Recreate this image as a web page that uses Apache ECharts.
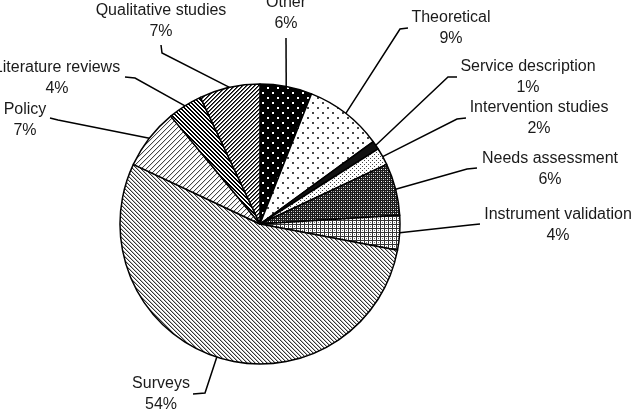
<!DOCTYPE html>
<html><head><meta charset="utf-8">
<script src="https://cdn.jsdelivr.net/npm/echarts@6/dist/echarts.min.js"></script>
<style>html,body{margin:0;padding:0;background:#fff}#c{width:635px;height:418px}</style>
</head><body><div id="c"></div>
<script>
const categories = ['Other','Theoretical','Service description','Intervention studies','Needs assessment','Instrument validation','Surveys','Policy','Literature reviews','Qualitative studies'];
const percents = [6, 9, 1, 2, 6, 4, 54, 7, 4, 7];

// label placement (style): [labelX, labelY, lineEndX, lineEndY, elbowX, elbowY]
const labelPlacement = [
  [286, 13, 286, 38, 286, 38],
  [451, 28, 408, 28, 400, 29],
  [528, 77, 457, 77, 448, 77],
  [539, 118, 466, 118, 457, 119],
  [550, 169, 477, 168, 467, 169],
  [558, 225, 480, 224, 470, 225],
  [161, 394, 193, 394, 205, 393],
  [25, 120, 50, 118, 58, 120],
  [57, 78, 125, 77, 135, 78],
  [161, 21, 161, 45, 162, 53]
];

function tile(w, h, bg, px) {
  const c = document.createElement('canvas');
  c.width = w; c.height = h;
  const g = c.getContext('2d');
  g.fillStyle = bg; g.fillRect(0, 0, w, h);
  px.forEach(function (p) { g.fillStyle = p[2]; g.fillRect(p[0], p[1], p[3] || 1, p[4] || 1); });
  return { image: c, repeat: 'repeat' };
}
function diag(n, dir, cols) {
  const px = [];
  for (let i = 0; i < n; i++) {
    cols.forEach(function (col, k) {
      const x = dir === 'down' ? (i + k) % n : ((n - 1 - i) + k) % n;
      px.push([x, i, col]);
    });
  }
  return px;
}
const patterns = [
  tile(10, 10, '#000', [[2, 2, '#fff', 2, 2], [7, 7, '#fff', 2, 2]]),
  tile(10, 10, '#fff', [[2, 2, '#444', 2, 2], [7, 7, '#444', 2, 2]]),
  tile(2, 2, '#111', []),
  tile(4, 4, '#fff', [[0, 0, '#444'], [2, 2, '#444']]),
  tile(4, 4, '#1a1a1a', [[1, 1, '#fff'], [3, 3, '#ddd'], [1, 3, '#888'], [3, 1, '#888']]),
  tile(4, 4, '#fff', [[0, 0, '#333', 4, 1], [0, 0, '#333', 1, 4], [2, 2, '#777']]),
  tile(4, 4, '#fff', diag(4, 'down', ['#333', '#bbb'])),
  tile(5, 5, '#fff', diag(5, 'up', ['#444', '#ddd'])),
  tile(4, 4, '#fff', diag(4, 'down', ['#000', '#000'])),
  tile(4, 4, '#fff', diag(4, 'up', ['#000', '#555']))
];

const chart = echarts.init(document.getElementById('c'), null, { renderer: 'canvas' });
chart.setOption({
  backgroundColor: '#fff',
  animation: false,
  series: [{
    type: 'pie',
    center: [260, 224],
    radius: 140,
    startAngle: 90,
    clockwise: true,
    data: categories.map(function (name, i) {
      return { name: name, value: percents[i], itemStyle: { color: patterns[i] } };
    }),
    itemStyle: { borderColor: '#000', borderWidth: 1.5 },
    emphasis: { disabled: true },
    label: {
      show: true,
      formatter: '{b}\n{c}%',
      fontFamily: 'Liberation Sans, Arial, sans-serif',
      fontSize: 16,
      lineHeight: 21,
      color: '#1a1a1a',
      align: 'center',
      width: 220,
      overflow: 'none'
    },
    labelLine: { show: true, length: 20, length2: 10, lineStyle: { color: '#000', width: 1.5 } },
    labelLayout: function (params) {
      const p = labelPlacement[params.dataIndex];
      const start = params.labelLinePoints ? params.labelLinePoints[0] : [p[4], p[5]];
      return {
        x: p[0], y: p[1], align: 'center', verticalAlign: 'middle',
        labelLinePoints: [start, [p[4], p[5]], [p[2], p[3]]]
      };
    }
  }]
});
</script></body></html>
